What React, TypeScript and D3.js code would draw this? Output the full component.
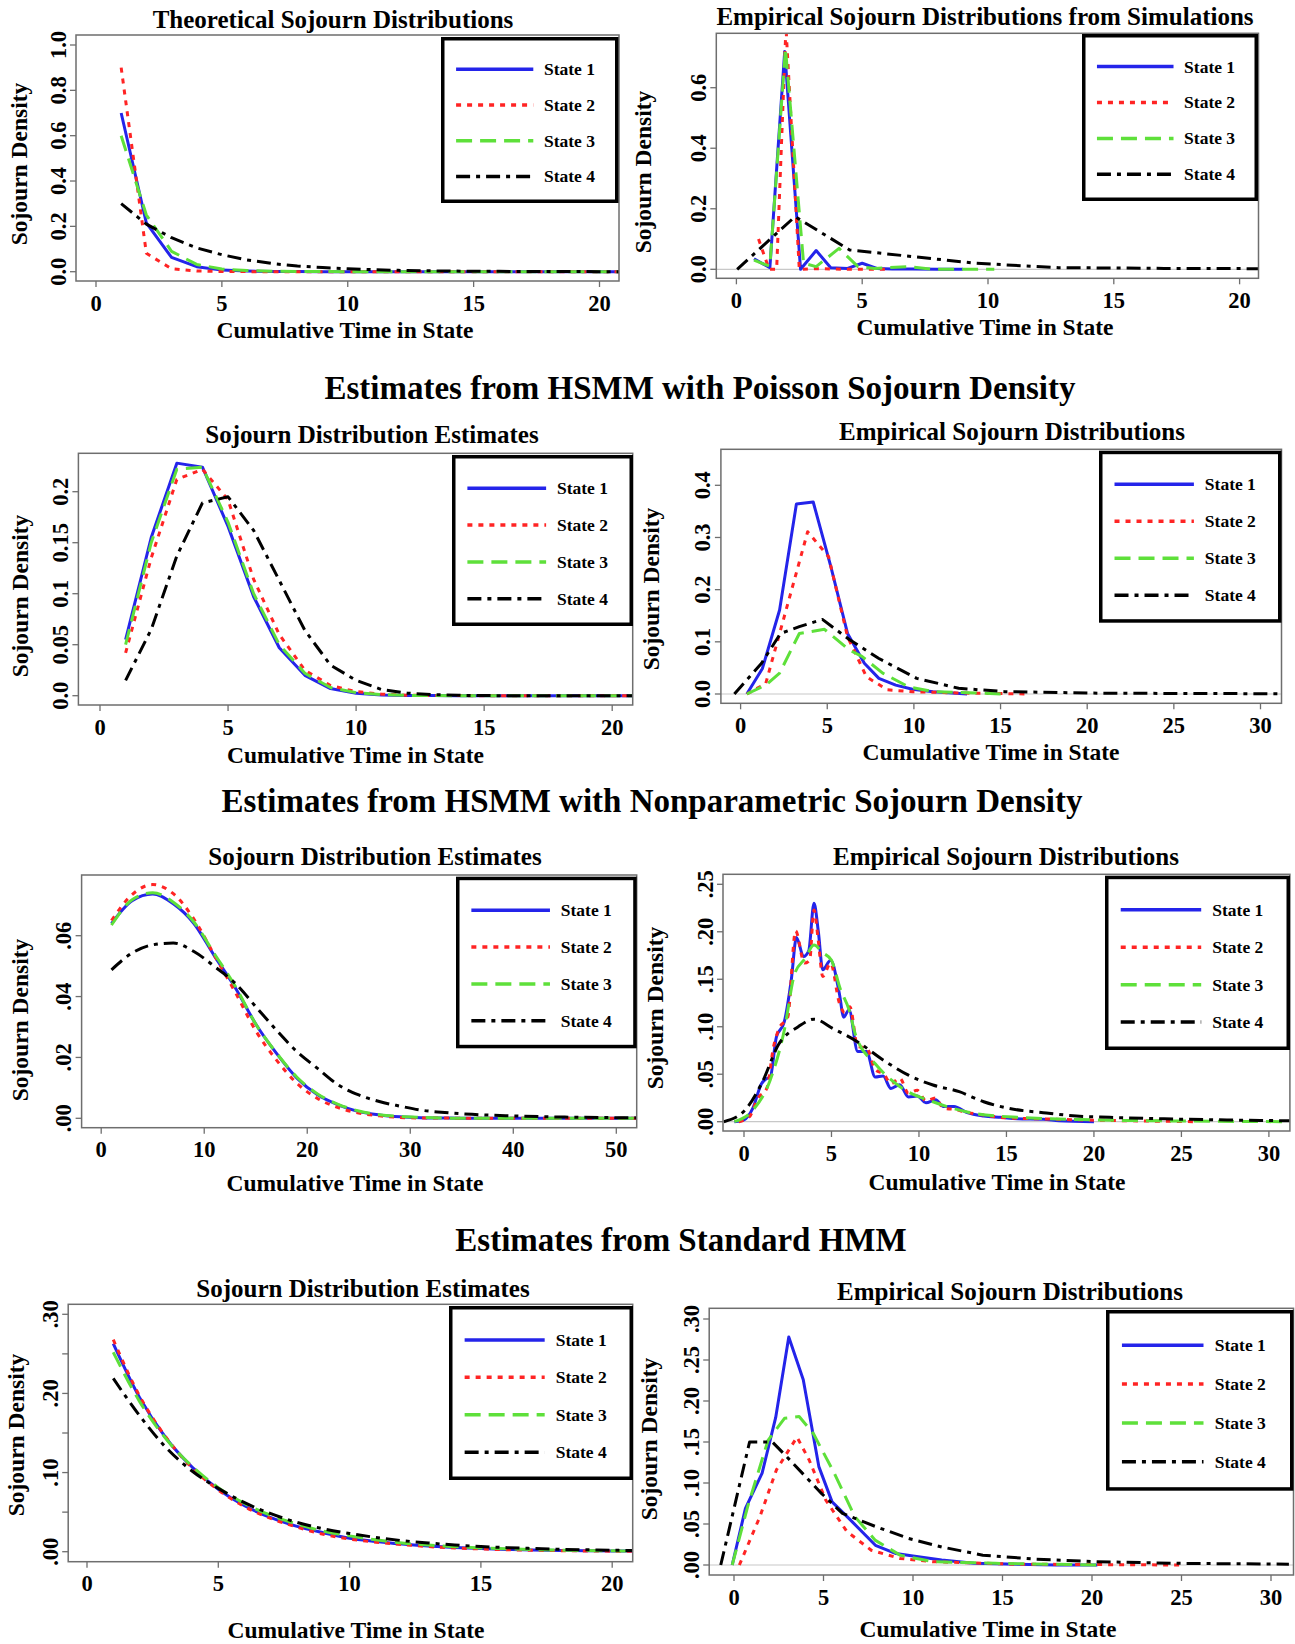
import React from 'react';
import * as d3 from 'd3';

// ---------- DATA ----------
const stateLabels = ['State 1', 'State 2', 'State 3', 'State 4'];

// Panel 1: Theoretical sojourn distributions
const p1X = [1, 2, 3, 4, 5, 6, 7, 8, 9, 10, 11, 12, 13, 14, 15, 16, 17, 18, 19, 20, 21, 22];
const p1S1 = [0.70, 0.215, 0.063, 0.022, 0.007, 0.003, 0.001, 0.0005, 0.0002, 0.0001, 0, 0, 0, 0, 0, 0, 0, 0, 0, 0, 0, 0];
const p1S2 = [0.90, 0.081, 0.013, 0.003, 0.001, 0.0003, 0.0001, 0, 0, 0, 0, 0, 0, 0, 0, 0, 0, 0, 0, 0, 0, 0];
const p1S3 = [0.60, 0.25, 0.09, 0.032, 0.012, 0.005, 0.002, 0.001, 0.0005, 0.0002, 0.0001, 0, 0, 0, 0, 0, 0, 0, 0, 0, 0, 0];
const p1S4 = [0.30, 0.21, 0.15, 0.105, 0.075, 0.052, 0.036, 0.025, 0.018, 0.013, 0.009, 0.006, 0.004, 0.003, 0.002, 0.0015, 0.001, 0.0007, 0.0005, 0.0003, 0.0002, 0.0001];

// Panel 2: Empirical sojourn distributions from simulations
const p2X1 = [0.7, 1.33, 1.92, 2.55, 3.17, 3.75, 4.42, 5.0, 5.58, 6.2, 7, 8, 9];
const p2S1 = [0.035, 0.005, 0.72, 0.0, 0.062, 0.005, 0.003, 0.02, 0.003, 0.001, 0.001, 0, 0];
const p2X2 = [0.88, 1.3, 1.6, 1.97, 2.5, 3.2, 4.5, 6.0];
const p2S2 = [0.1, 0.0, 0.0, 0.80, 0.0, 0.002, 0.0, 0.0];
const p2X3 = [0.7, 1.33, 1.95, 2.67, 3.17, 4.08, 4.83, 5.5, 6.83, 7.8, 10.25];
const p2S3 = [0.03, 0.01, 0.73, 0.02, 0.009, 0.069, 0.009, 0.003, 0.009, 0.0, 0.0];
const p2X4 = [0.03, 2.33, 4.5, 7.0, 9.5, 12.8, 17, 21];
const p2S4 = [0.0, 0.174, 0.064, 0.042, 0.02, 0.0055, 0.003, 0.002];

// Panel 3: Poisson HSMM sojourn estimates
const p3X = [1, 2, 3, 4, 5, 6, 7, 8, 9, 10, 11, 12, 13, 14, 15, 16, 17, 18, 19, 20, 21, 22];
const p3S1 = [0.055, 0.155, 0.228, 0.224, 0.166, 0.097, 0.047, 0.020, 0.007, 0.0023, 0.0007, 0.0002, 0.0001, 0, 0, 0, 0, 0, 0, 0, 0, 0];
const p3S2 = [0.042, 0.135, 0.212, 0.222, 0.192, 0.114, 0.060, 0.025, 0.010, 0.004, 0.0015, 0.0005, 0.0002, 0.0001, 0, 0, 0, 0, 0, 0, 0, 0];
const p3S3 = [0.05, 0.15, 0.222, 0.224, 0.170, 0.100, 0.050, 0.022, 0.008, 0.003, 0.001, 0.0003, 0.0001, 0, 0, 0, 0, 0, 0, 0, 0, 0];
const p3S4 = [0.015, 0.065, 0.137, 0.189, 0.195, 0.162, 0.113, 0.064, 0.030, 0.015, 0.006, 0.0025, 0.001, 0.0004, 0.0001, 0, 0, 0, 0, 0, 0, 0];

// Panel 4: Empirical (Poisson HSMM)
const p4X1 = [0.36, 1.26, 2.25, 3.22, 4.19, 5.2, 6.17, 7.14, 7.98, 8.95, 9.92, 11.1, 13.07];
const p4S1 = [0, 0.049, 0.161, 0.364, 0.368, 0.245, 0.116, 0.059, 0.030, 0.017, 0.009, 0.0045, 0];
const p4X2 = [0.36, 1.45, 2.25, 3.87, 5.08, 6.17, 7.26, 8.47, 9.92, 12.5, 16.7];
const p4S2 = [0, 0.02, 0.116, 0.311, 0.263, 0.11, 0.033, 0.008, 0.0045, 0.002, 0];
const p4X3 = [0.36, 1.45, 2.25, 3.39, 4.84, 6.29, 7.0, 8.2, 9.68, 11.1, 15.2];
const p4S3 = [0, 0.017, 0.04, 0.116, 0.124, 0.084, 0.072, 0.04, 0.014, 0.0045, 0];
const p4X4 = [-0.36, 1.21, 2.3, 3.39, 4.72, 6.29, 7.98, 10.16, 12.58, 15.24, 20.8, 31.2];
const p4S4 = [0, 0.059, 0.116, 0.129, 0.143, 0.104, 0.068, 0.030, 0.011, 0.0045, 0.0015, 0.0005];

// Panel 5: Nonparametric HSMM sojourn estimates
const p5X = [1, 3, 5, 7, 9, 11, 13, 15, 17, 19, 21, 23, 25, 27, 29, 31, 33, 36, 40, 45, 50, 53];
const p5S1 = [0.064, 0.0715, 0.0737, 0.0705, 0.064, 0.0533, 0.043, 0.031, 0.0214, 0.0132, 0.0077, 0.0044, 0.0022, 0.0011, 0.0005, 0.0002, 0.0001, 0, 0, 0, 0, 0];
const p5S2 = [0.065, 0.0735, 0.0768, 0.0738, 0.0655, 0.0535, 0.0415, 0.0288, 0.0192, 0.0115, 0.0065, 0.0035, 0.0017, 0.0008, 0.0003, 0.0001, 0.0001, 0, 0, 0, 0, 0];
const p5S3 = [0.0635, 0.0718, 0.0741, 0.071, 0.0645, 0.054, 0.0435, 0.031, 0.0215, 0.0135, 0.008, 0.0046, 0.0024, 0.0012, 0.0006, 0.0003, 0.0001, 0, 0, 0, 0, 0];
const p5S4 = [0.0488, 0.0543, 0.057, 0.0576, 0.0548, 0.0499, 0.0444, 0.0367, 0.029, 0.0219, 0.0164, 0.011, 0.0077, 0.0055, 0.004, 0.0027, 0.002, 0.0013, 0.0008, 0.0004, 0.0002, 0.0001];

// Panel 6: Empirical (Nonparametric HSMM)
const p6X1 = [-0.55, 0, 0.5, 1.0, 1.25, 1.5, 1.85, 2.3, 2.7, 3.0, 3.4, 3.7, 4.0, 4.25, 4.5, 4.95, 5.45, 5.7, 6.0, 6.5, 7.0, 7.5, 7.95, 8.4, 8.9, 9.4, 9.9, 10.4, 10.95, 11.4, 12.0, 12.75, 13.7, 14.7, 15.6, 17.1, 18, 20];
const p6S1 = [0, 0.002, 0.014, 0.04, 0.045, 0.047, 0.089, 0.105, 0.149, 0.194, 0.174, 0.18, 0.23, 0.20, 0.16, 0.17, 0.135, 0.11, 0.118, 0.074, 0.074, 0.047, 0.048, 0.035, 0.039, 0.026, 0.027, 0.02, 0.023, 0.016, 0.016, 0.0095, 0.006, 0.0046, 0.003, 0.0025, 0.001, 0];
const p6X2 = [-0.3, 0.3, 0.8, 1.3, 1.7, 2.0, 2.5, 2.95, 3.45, 3.75, 4.0, 4.25, 4.5, 4.95, 5.45, 5.75, 6.05, 6.5, 7.0, 7.5, 8.0, 8.4, 8.9, 9.4, 9.9, 10.4, 10.95, 11.4, 12, 12.7, 13.7, 15, 17, 19, 22, 26];
const p6S2 = [0, 0.005, 0.025, 0.035, 0.08, 0.098, 0.11, 0.201, 0.167, 0.17, 0.223, 0.19, 0.153, 0.167, 0.125, 0.115, 0.121, 0.079, 0.078, 0.055, 0.05, 0.04, 0.046, 0.03, 0.033, 0.022, 0.025, 0.014, 0.013, 0.01, 0.007, 0.004, 0.003, 0.002, 0.001, 0];
const p6X3 = [-0.55, 0.5, 1.5, 2.3, 2.9, 3.5, 4.0, 4.5, 5.0, 5.5, 6.0, 6.4, 7.5, 8.9, 10.8, 12.7, 15.6, 20.4, 25.2, 31];
const p6S3 = [0, 0.012, 0.044, 0.096, 0.156, 0.172, 0.186, 0.178, 0.17, 0.14, 0.118, 0.09, 0.061, 0.037, 0.021, 0.0105, 0.0046, 0.0018, 0.0007, 0];
const p6X4 = [-1.15, 0.05, 1, 2, 3.1, 4.0, 5.1, 6.5, 7.95, 9.4, 10.8, 12.3, 13.7, 15.15, 17.1, 19, 20.9, 24, 27.6, 31.2];
const p6S4 = [0, 0.012, 0.04, 0.082, 0.1, 0.108, 0.098, 0.084, 0.065, 0.049, 0.0386, 0.0316, 0.021, 0.014, 0.0095, 0.006, 0.0046, 0.003, 0.0018, 0.001];

// Panel 7: Standard HMM sojourn estimates
const p7X = [1, 2, 3, 4, 5, 6, 7, 8, 9, 10, 11, 12, 13, 14, 15, 16, 17, 18, 19, 20, 21, 22];
const p7S1 = [0.263, 0.195, 0.144, 0.107, 0.079, 0.058, 0.043, 0.032, 0.024, 0.017, 0.013, 0.0096, 0.0071, 0.0052, 0.0039, 0.0029, 0.0021, 0.0016, 0.0012, 0.0009, 0.0006, 0.0005];
const p7S2 = [0.268, 0.197, 0.145, 0.106, 0.078, 0.057, 0.042, 0.031, 0.022, 0.016, 0.012, 0.009, 0.0065, 0.0048, 0.0035, 0.0025, 0.0018, 0.0013, 0.001, 0.0007, 0.0005, 0.0004];
const p7S3 = [0.252, 0.19, 0.143, 0.108, 0.081, 0.061, 0.046, 0.035, 0.026, 0.02, 0.015, 0.011, 0.0085, 0.0064, 0.0048, 0.0036, 0.0027, 0.002, 0.0015, 0.0011, 0.0009, 0.0007];
const p7S4 = [0.219, 0.172, 0.132, 0.102, 0.080, 0.062, 0.048, 0.037, 0.029, 0.023, 0.018, 0.014, 0.011, 0.0085, 0.0066, 0.0051, 0.004, 0.003, 0.0024, 0.0018, 0.0014, 0.0011];

// Panel 8: Empirical (Standard HMM)
const p8X1 = [-0.1, 0.64, 1.57, 2.33, 3.06, 3.87, 4.74, 5.48, 6.5, 7.9, 9.05, 10, 11.6, 13.4, 18, 20.3];
const p8S1 = [0, 0.069, 0.112, 0.18, 0.278, 0.226, 0.12, 0.077, 0.055, 0.024, 0.014, 0.011, 0.006, 0.002, 0, 0];
const p8X2 = [0.3, 1.45, 2.37, 3.52, 4.2, 5.13, 6.3, 7.67, 9.28, 11.1, 15.7, 24.9];
const p8S2 = [0, 0.059, 0.116, 0.156, 0.128, 0.079, 0.041, 0.018, 0.008, 0.004, 0.001, 0];
const p8X3 = [-0.1, 0.76, 1.9, 2.83, 3.64, 4.44, 5.6, 6.75, 7.9, 9.28, 11.1, 14.6, 20.3];
const p8S3 = [0, 0.071, 0.152, 0.179, 0.181, 0.16, 0.112, 0.059, 0.03, 0.012, 0.004, 0.002, 0];
const p8X4 = [-0.74, 0.87, 2.14, 2.95, 4.9, 6.06, 7.9, 9.74, 11.6, 13.9, 16.9, 20.3, 24.9, 31];
const p8S4 = [0, 0.150, 0.150, 0.132, 0.087, 0.063, 0.047, 0.0325, 0.022, 0.012, 0.007, 0.004, 0.002, 0.001];

// Section headings and titles
const headings = [
  'Estimates from HSMM with Poisson Sojourn Density',
  'Estimates from HSMM with Nonparametric Sojourn Density',
  'Estimates from Standard HMM',
];
const xAxisTitle = 'Cumulative Time in State';
const yAxisTitle = 'Sojourn Density';

// Tick labels
const ticks0to20 = [0, 5, 10, 15, 20];
const ticks0to30 = [0, 5, 10, 15, 20, 25, 30];
const ticks0to50 = [0, 10, 20, 30, 40, 50];
const yTicksP1 = [0, 0.2, 0.4, 0.6, 0.8, 1.0];
const yLabelsP1 = ['0.0', '0.2', '0.4', '0.6', '0.8', '1.0'];
const yTicksP2 = [0, 0.2, 0.4, 0.6];
const yLabelsP2 = ['0.0', '0.2', '0.4', '0.6'];
const yTicksP3 = [0, 0.05, 0.1, 0.15, 0.2];
const yLabelsP3 = ['0.0', '0.05', '0.1', '0.15', '0.2'];
const yTicksP4 = [0, 0.1, 0.2, 0.3, 0.4];
const yLabelsP4 = ['0.0', '0.1', '0.2', '0.3', '0.4'];
const yTicksP5 = [0, 0.02, 0.04, 0.06];
const yLabelsP5 = ['.00', '.02', '.04', '.06'];
const yTicksP6 = [0, 0.05, 0.1, 0.15, 0.2, 0.25];
const yLabelsP6 = ['.00', '.05', '.10', '.15', '.20', '.25'];
const yTicksP7 = [0, 0.05, 0.1, 0.15, 0.2, 0.25, 0.3];
const yLabelsP7 = ['.00', '', '.10', '', '.20', '', '.30'];
const yTicksP8 = [0, 0.05, 0.1, 0.15, 0.2, 0.25, 0.3];
const yLabelsP8 = ['.00', '.05', '.10', '.15', '.20', '.25', '.30'];

// ---------- STYLE ----------
const COLORS = ['#2424ea', '#ff2424', '#5ee03a', '#000000'];
const DASHES: (string | undefined)[] = [undefined, '5,6', '16,8', '14,6,4,6'];
const FONT = "'Liberation Serif', 'Times New Roman', serif";

type Rect = { l: number; t: number; r: number; b: number };
type Panel = {
  id: string;
  title: string;
  titleX: number;
  titleY: number;
  box: Rect;
  xDom: [number, number];
  xRng: [number, number];
  yDom: [number, number];
  yRng: [number, number];
  xTicks: number[];
  yTicks: number[];
  yLabels: string[];
  series: { x: number[]; y: number[] }[];
  zero: boolean;
  legend: Rect;
  xLabX: number;
  xLabY: number;
  yLabX: number;
  yLabY: number;
  smooth: boolean;
};

const panels: Panel[] = [
  {
    id: 'p1', title: 'Theoretical Sojourn Distributions', titleX: 333, titleY: 19,
    box: { l: 76, t: 35, r: 619, b: 281 }, xDom: [0, 20], xRng: [96, 599.5], yDom: [0, 1], yRng: [271.7, 45],
    xTicks: ticks0to20, yTicks: yTicksP1, yLabels: yLabelsP1,
    series: [{ x: p1X, y: p1S1 }, { x: p1X, y: p1S2 }, { x: p1X, y: p1S3 }, { x: p1X, y: p1S4 }],
    zero: false, legend: { l: 441, t: 37, r: 618.5, b: 203 },
    xLabX: 345, xLabY: 330, yLabX: 19, yLabY: 164, smooth: false,
  },
  {
    id: 'p2', title: 'Empirical Sojourn Distributions from Simulations', titleX: 985, titleY: 16,
    box: { l: 716.3, t: 33.3, r: 1258.5, b: 278.3 }, xDom: [0, 20], xRng: [736.4, 1239.6], yDom: [0, 0.6], yRng: [269.3, 87.7],
    xTicks: ticks0to20, yTicks: yTicksP2, yLabels: yLabelsP2,
    series: [{ x: p2X1, y: p2S1 }, { x: p2X2, y: p2S2 }, { x: p2X3, y: p2S3 }, { x: p2X4, y: p2S4 }],
    zero: true, legend: { l: 1082, t: 34, r: 1258, b: 201 },
    xLabX: 985, xLabY: 327, yLabX: 643, yLabY: 172, smooth: false,
  },
  {
    id: 'p3', title: 'Sojourn Distribution Estimates', titleX: 372, titleY: 434,
    box: { l: 78.4, t: 453.3, r: 632.7, b: 705 }, xDom: [0, 20], xRng: [100, 612.2], yDom: [0, 0.2], yRng: [695.7, 491.7],
    xTicks: ticks0to20, yTicks: yTicksP3, yLabels: yLabelsP3,
    series: [{ x: p3X, y: p3S1 }, { x: p3X, y: p3S2 }, { x: p3X, y: p3S3 }, { x: p3X, y: p3S4 }],
    zero: false, legend: { l: 452, t: 455, r: 633, b: 626 },
    xLabX: 355.5, xLabY: 755, yLabX: 20, yLabY: 596, smooth: false,
  },
  {
    id: 'p4', title: 'Empirical Sojourn Distributions', titleX: 1012, titleY: 431,
    box: { l: 720.9, t: 449.3, r: 1281.5, b: 703.3 }, xDom: [0, 30], xRng: [740.6, 1260.5], yDom: [0, 0.4], yRng: [694, 485.3],
    xTicks: ticks0to30, yTicks: yTicksP4, yLabels: yLabelsP4,
    series: [{ x: p4X1, y: p4S1 }, { x: p4X2, y: p4S2 }, { x: p4X3, y: p4S3 }, { x: p4X4, y: p4S4 }],
    zero: true, legend: { l: 1099, t: 450.7, r: 1281.5, b: 622.7 },
    xLabX: 991, xLabY: 752, yLabX: 651, yLabY: 589, smooth: false,
  },
  {
    id: 'p5', title: 'Sojourn Distribution Estimates', titleX: 375, titleY: 856.7,
    box: { l: 81.6, t: 875, r: 636.7, b: 1127.7 }, xDom: [0, 50], xRng: [101.2, 616.3], yDom: [0, 0.06], yRng: [1118.3, 935.7],
    xTicks: ticks0to50, yTicks: yTicksP5, yLabels: yLabelsP5,
    series: [{ x: p5X, y: p5S1 }, { x: p5X, y: p5S2 }, { x: p5X, y: p5S3 }, { x: p5X, y: p5S4 }],
    zero: false, legend: { l: 456, t: 876.7, r: 636.7, b: 1048.3 },
    xLabX: 355, xLabY: 1183, yLabX: 20, yLabY: 1020, smooth: true,
  },
  {
    id: 'p6', title: 'Empirical Sojourn Distributions', titleX: 1006, titleY: 856.7,
    box: { l: 723, t: 874.3, r: 1289.9, b: 1131 }, xDom: [0, 30], xRng: [744, 1268.9], yDom: [0, 0.25], yRng: [1121.7, 884.3],
    xTicks: ticks0to30, yTicks: yTicksP6, yLabels: yLabelsP6,
    series: [{ x: p6X1, y: p6S1 }, { x: p6X2, y: p6S2 }, { x: p6X3, y: p6S3 }, { x: p6X4, y: p6S4 }],
    zero: true, legend: { l: 1105, t: 875.7, r: 1290, b: 1050 },
    xLabX: 997, xLabY: 1182, yLabX: 655, yLabY: 1008, smooth: true,
  },
  {
    id: 'p7', title: 'Sojourn Distribution Estimates', titleX: 363, titleY: 1288,
    box: { l: 68.2, t: 1304.3, r: 632.7, b: 1561.7 }, xDom: [0, 20], xRng: [87, 612.2], yDom: [0, 0.3], yRng: [1551.7, 1314.3],
    xTicks: ticks0to20, yTicks: yTicksP7, yLabels: yLabelsP7,
    series: [{ x: p7X, y: p7S1 }, { x: p7X, y: p7S2 }, { x: p7X, y: p7S3 }, { x: p7X, y: p7S4 }],
    zero: false, legend: { l: 449, t: 1306, r: 633, b: 1480 },
    xLabX: 356, xLabY: 1630, yLabX: 16, yLabY: 1435, smooth: true,
  },
  {
    id: 'p8', title: 'Empirical Sojourn Distributions', titleX: 1010, titleY: 1291,
    box: { l: 709.2, t: 1308.3, r: 1293.5, b: 1575 }, xDom: [0, 30], xRng: [734, 1271], yDom: [0, 0.3], yRng: [1565, 1319],
    xTicks: ticks0to30, yTicks: yTicksP8, yLabels: yLabelsP8,
    series: [{ x: p8X1, y: p8S1 }, { x: p8X2, y: p8S2 }, { x: p8X3, y: p8S3 }, { x: p8X4, y: p8S4 }],
    zero: true, legend: { l: 1106, t: 1310, r: 1293.5, b: 1490.7 },
    xLabX: 988, xLabY: 1629, yLabX: 649, yLabY: 1439, smooth: false,
  },
];

const headingPos = [
  { x: 700, y: 388 },
  { x: 652, y: 801 },
  { x: 681, y: 1240 },
];

function PanelView({ p }: { p: Panel }) {
  const xs = d3.scaleLinear().domain(p.xDom).range(p.xRng);
  const ys = d3.scaleLinear().domain(p.yDom).range(p.yRng);
  const line = d3
    .line<[number, number]>()
    .x((d) => xs(d[0]))
    .y((d) => ys(d[1]))
    .curve(p.smooth ? d3.curveMonotoneX : d3.curveLinear);
  const { box, legend } = p;
  const lw = legend.r - legend.l;
  const lh = legend.b - legend.t;
  const axisColor = '#6e6e6e';
  return (
    <g>
      <defs>
        <clipPath id={`clip-${p.id}`}>
          <rect x={box.l} y={box.t} width={box.r - box.l} height={box.b - box.t} />
        </clipPath>
      </defs>
      <text x={p.titleX} y={p.titleY} textAnchor="middle" dominantBaseline="central"
        fontFamily={FONT} fontWeight="bold" fontSize={25}>{p.title}</text>
      {p.zero && (
        <line x1={box.l} x2={box.r} y1={ys(0)} y2={ys(0)} stroke="#c8c8c8" strokeWidth={1.2} />
      )}
      <g clipPath={`url(#clip-${p.id})`}>
        {p.series.map((s, i) => {
          const pts: [number, number][] = s.x.map((xv, k) => [xv, s.y[k]]);
          return (
            <path key={i} d={line(pts) || ''} fill="none" stroke={COLORS[i]} strokeWidth={3}
              strokeDasharray={DASHES[i]} strokeLinejoin="round" />
          );
        })}
      </g>
      <rect x={box.l} y={box.t} width={box.r - box.l} height={box.b - box.t} fill="none"
        stroke={axisColor} strokeWidth={1.5} />
      {p.xTicks.map((t) => (
        <g key={`xt${t}`}>
          <line x1={xs(t)} x2={xs(t)} y1={box.b} y2={box.b + 6} stroke={axisColor} strokeWidth={1.3} />
          <text x={xs(t)} y={box.b + 22} textAnchor="middle" dominantBaseline="central"
            fontFamily={FONT} fontWeight="bold" fontSize={22.5}>{t}</text>
        </g>
      ))}
      {p.yTicks.map((t, i) => (
        <g key={`yt${i}`}>
          <line x1={box.l - 6} x2={box.l} y1={ys(t)} y2={ys(t)} stroke={axisColor} strokeWidth={1.3} />
          {p.yLabels[i] !== '' && (
            <text transform={`translate(${box.l - 18},${ys(t)}) rotate(-90)`} textAnchor="middle"
              dominantBaseline="central" fontFamily={FONT} fontWeight="bold" fontSize={22.5}>{p.yLabels[i]}</text>
          )}
        </g>
      ))}
      <text x={p.xLabX} y={p.xLabY} textAnchor="middle" dominantBaseline="central"
        fontFamily={FONT} fontWeight="bold" fontSize={23.5}>{xAxisTitle}</text>
      <text transform={`translate(${p.yLabX},${p.yLabY}) rotate(-90)`} textAnchor="middle"
        dominantBaseline="central" fontFamily={FONT} fontWeight="bold" fontSize={23.5}>{yAxisTitle}</text>
      <rect x={legend.l + 1.75} y={legend.t + 1.75} width={lw - 3.5} height={lh - 3.5} fill="white"
        stroke="#000" strokeWidth={3.5} />
      {stateLabels.map((lab, i) => {
        const yy = legend.t + lh * (0.195 + 0.215 * i);
        return (
          <g key={lab}>
            <line x1={legend.l + lw * 0.085} x2={legend.l + lw * 0.52} y1={yy} y2={yy} stroke={COLORS[i]}
              strokeWidth={3.5} strokeDasharray={DASHES[i]} />
            <text x={legend.l + lw * 0.58} y={yy} dominantBaseline="central" fontFamily={FONT}
              fontWeight="bold" fontSize={17.5}>{lab}</text>
          </g>
        );
      })}
    </g>
  );
}

export default function App() {
  return (
    <svg width={1295} height={1644} viewBox="0 0 1295 1644" style={{ display: 'block', position: 'absolute', left: 0, top: 0, background: 'white' }}>
      <rect x={0} y={0} width={1295} height={1644} fill="white" />
      {panels.map((p) => (
        <PanelView key={p.id} p={p} />
      ))}
      {headings.map((h, i) => (
        <text key={h} x={headingPos[i].x} y={headingPos[i].y} textAnchor="middle" dominantBaseline="central"
          fontFamily={FONT} fontWeight="bold" fontSize={33}>{h}</text>
      ))}
    </svg>
  );
}
